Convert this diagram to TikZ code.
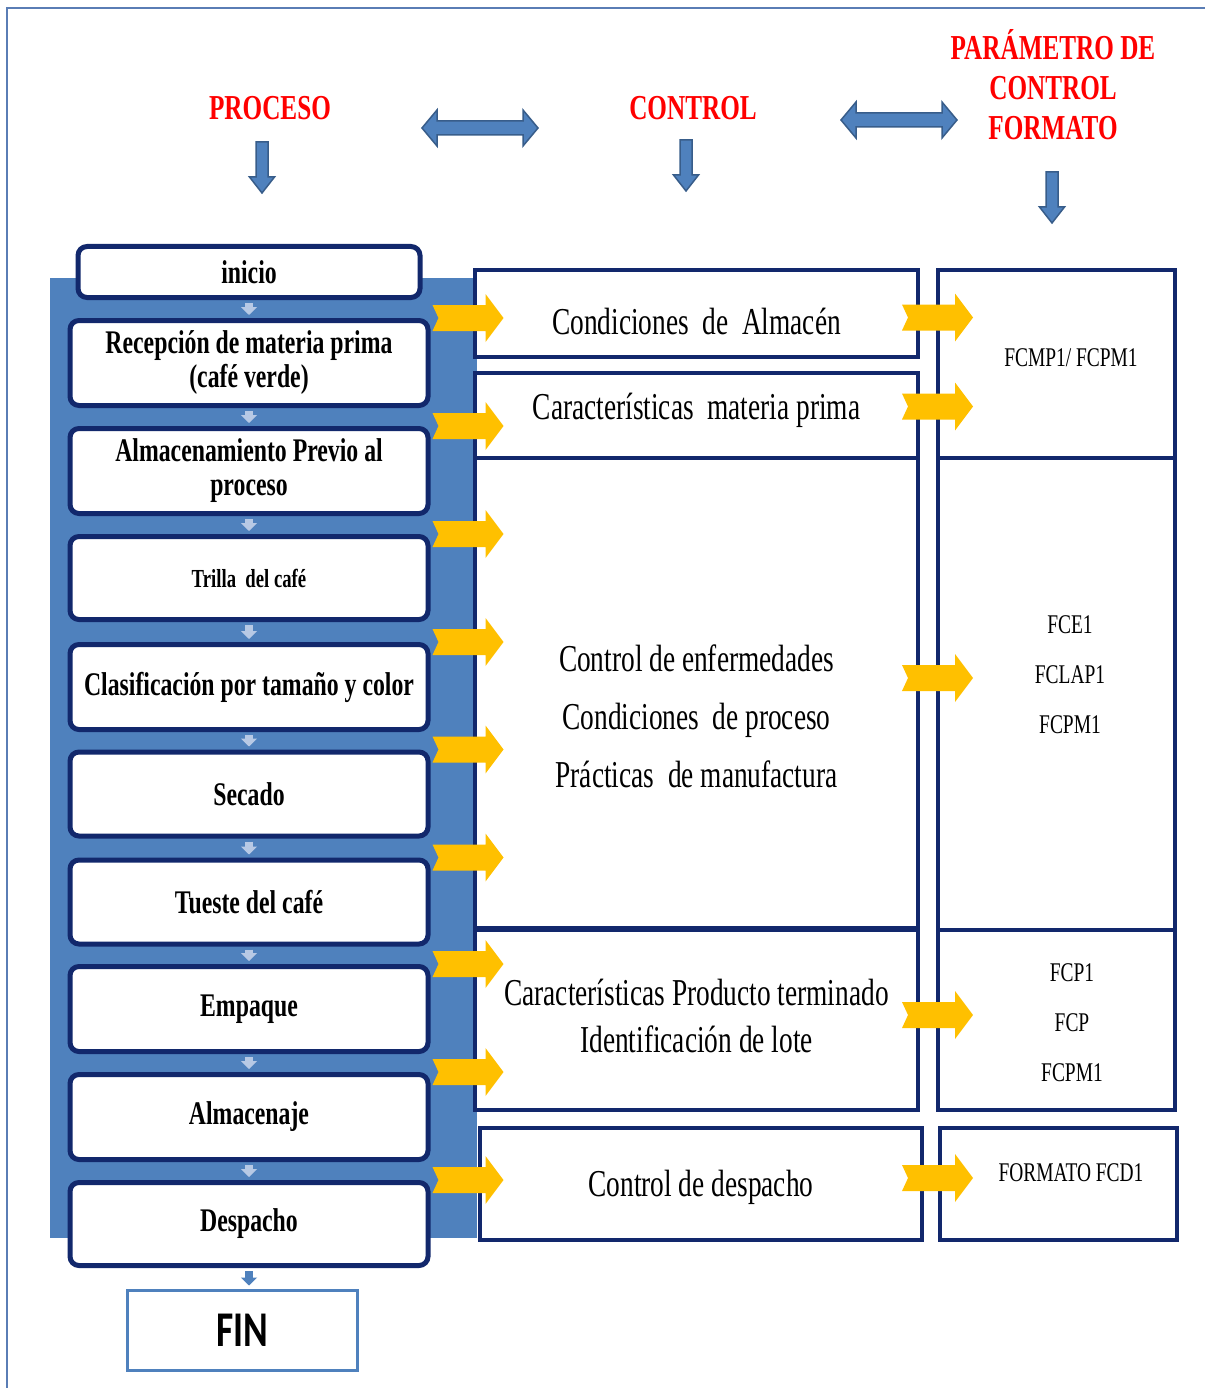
\documentclass[tikz,border=0pt]{standalone}
\usepackage{fontspec}
\setmainfont{Liberation Serif}[FakeStretch=0.72]
\newfontfamily\finfont{Carlito}[FakeStretch=0.75]
\usetikzlibrary{arrows.meta}

\definecolor{bgblue}{HTML}{4F81BD}
\definecolor{edgeblue}{HTML}{385D8A}
\definecolor{navy}{HTML}{12286C}
\definecolor{amber}{HTML}{FFC000}
\definecolor{paleblue}{HTML}{B7C9E5}
\definecolor{framec}{HTML}{5A7DB5}

\begin{document}
\begin{tikzpicture}[x=1pt,y=-1pt]

\tikzset{
    procbox/.style={
        draw=navy,
        line width=5pt,
        rounded corners=9pt,
        fill=white,
        minimum width=358pt,
        minimum height=85pt,
        inner sep=0pt,
        align=center,
        font=\fontsize{33}{34}\selectfont\bfseries
    },
    cbox/.style args={#1 and #2}{
        draw=navy,
        line width=4pt,
        fill=white,
        inner sep=0pt,
        minimum width=#1,
        minimum height=#2
    },
    ctext/.style={align=center, font=\fontsize{38}{58}\selectfont},
    ptext/.style={align=center, font=\fontsize{27}{50}\selectfont},
    hdr/.style={red, align=center, font=\fontsize{35}{40}\selectfont\bfseries},
    flow/.style={
        paleblue,
        line width=8pt,
        -{Triangle[width=16pt,length=8pt]},
        shorten <=3pt,
        shorten >=3pt
    },
    yarrow/.pic={
        \fill[amber] (0,-13) -- (53,-13) -- (53,-24) -- (71,0) -- (53,24)
            -- (53,13) -- (0,13) -- (6,0) -- cycle;
    },
    darrow/.pic={
        \filldraw[fill=bgblue, draw=edgeblue, line width=1.5pt] (-6,0) -- (6,0)
            -- (6,35) -- (12.5,35) -- (0,51) -- (-12.5,35) -- (-6,35) -- cycle;
    },
    dblarrow/.pic={
        \filldraw[fill=bgblue, draw=edgeblue, line width=1.5pt] (-58,0) -- (-43,-18)
            -- (-43,-7) -- (43,-7) -- (43,-18) -- (58,0) -- (43,18) -- (43,7)
            -- (-43,7) -- (-43,18) -- cycle;
    }
}

\useasboundingbox (0,0) rectangle (1205,1388);
\draw[framec, line width=2.5pt] (7,1388) -- (7,8) -- (1205,8);

% headers
\node[hdr] (proc) at (270,108) {PROCESO};
\node[hdr] (ctrl) at (693,108) {CONTROL};
\node[hdr] (param) at (1053,85) {PARÁMETRO DE\\CONTROL\\FORMATO};

\pic at (262,142) {darrow};
\pic at (686,140) {darrow};
\pic at (1052,172) {darrow};
\pic at (480,128) {dblarrow};
\pic at (899,120) {dblarrow};

% process column
\fill[bgblue] (50,278) rectangle (477,1238);

\node[procbox, minimum width=342pt, minimum height=51pt] (inicio) at (249,272) {inicio};
\node[procbox] (recep) at (249,363) {Recepción de materia prima\\(café verde)};
\node[procbox] (almprev) at (249,471) {Almacenamiento Previo al\\proceso};
\node[procbox, minimum height=83pt, font=\fontsize{26}{26}\selectfont\bfseries] (trilla) at (249,578) {Trilla\ \ del café};
\node[procbox] (clasif) at (249,687) {Clasificación por tamaño y color};
\node[procbox, minimum height=84pt] (secado) at (249,794) {Secado};
\node[procbox, minimum height=84pt] (tueste) at (249,902) {Tueste del café};
\node[procbox] (empaque) at (249,1009) {Empaque};
\node[procbox] (almacenaje) at (249,1117) {Almacenaje};
\node[procbox, minimum height=83pt] (despacho) at (249,1224) {Despacho};
\node[draw=bgblue, line width=3pt, fill=white, minimum width=230pt, minimum height=80pt,
    font=\finfont\fontsize{50}{50}\selectfont\bfseries] (fin) at (242,1330) {FIN};

\foreach \a/\b in {inicio/recep, recep/almprev, almprev/trilla, trilla/clasif,
    clasif/secado, secado/tueste, tueste/empaque, empaque/almacenaje, almacenaje/despacho}
    \draw[flow] (\a.south) -- (\b.north);
\draw[flow, bgblue] (despacho.south) -- (despacho.south |- fin.north);

% control column
\node[cbox=443pt and 87pt] (c1) at (696.5,313.5) {};
\node[cbox=443pt and 85pt] (c2) at (696.5,415.5) {};
\node[cbox=443pt and 470pt] (c3) at (696.5,693) {};
\node[cbox=443pt and 180pt] (c4) at (696.5,1020) {};
\node[cbox=442pt and 112pt] (c5) at (701,1184) {};

\node[ctext] (t1) at ([yshift=-8pt]c1.center) {Condiciones\ \ de\ \ Almacén};
\node[ctext] (t2) at ([yshift=5pt]c2.center) {Características\ \ materia\ prima};
\node[ctext] (t3) at ([yshift=-23pt]c3.center) {Control\ de enfermedades\\Condiciones\ \ de proceso\\Prácticas\ \ de manufactura};
\node[ctext, font=\fontsize{38}{47}\selectfont] (t4) at ([yshift=4pt]c4.center) {Características\ Producto\ terminado\\Identificación\ de lote};
\node[ctext] (t5) at ([yshift=-3pt]c5.center) {Control\ de\ despacho};

% parameter column
\node[cbox=237pt and 188pt] (p1) at (1056.5,364) {};
\node[cbox=237pt and 472pt] (p2) at (1056.5,694) {};
\node[cbox=237pt and 180pt] (p3) at (1056.5,1020) {};
\node[cbox=237pt and 112pt] (p4) at (1058.5,1184) {};

\node[ptext] (f1) at ([xshift=14.5pt,yshift=6pt]p1.center) {FCMP1/ FCPM1};
\node[ptext] (f2) at ([xshift=13.5pt,yshift=19pt]p2.center) {FCE1\\FCLAP1\\FCPM1};
\node[ptext] (f3) at ([xshift=15.5pt,yshift=-3pt]p3.center) {FCP1\\FCP\\FCPM1};
\node[ptext] (f4) at ([xshift=12.5pt,yshift=11pt]p4.center) {FORMATO FCD1};

% yellow arrows
\foreach \n in {recep, almprev, trilla, clasif, secado, tueste, empaque, almacenaje, despacho}
    \pic at ([xshift=2pt]\n.north east) {yarrow};
\pic at ([xshift=-18pt,yshift=-4pt]c1.east) {yarrow};
\pic at ([xshift=-18pt,yshift=9pt]c2.east) {yarrow};
\pic at ([xshift=-18pt,yshift=15pt]c3.east) {yarrow};
\pic at ([xshift=-18pt,yshift=5pt]c4.east) {yarrow};
\pic at ([xshift=-22pt,yshift=6pt]c5.east) {yarrow};

\end{tikzpicture}
\end{document}
